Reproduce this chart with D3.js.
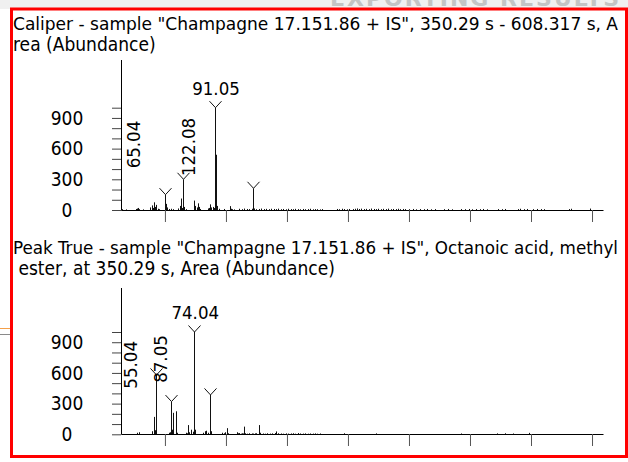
<!DOCTYPE html>
<html>
<head>
<meta charset="utf-8">
<script src="https://cdn.jsdelivr.net/npm/d3@7"></script>
<style>
  html, body { margin: 0; padding: 0; background: #ffffff; }
  svg { display: block; }
  text { font-family: "DejaVu Sans Condensed", "DejaVu Sans", sans-serif; fill: #000; }
</style>
</head>
<body>
<svg id="chart" width="628" height="462"></svg>
<script>
// ---- data ---------------------------------------------------------------
const xTicks = [50, 100, 150, 200, 250, 300, 350, 400];
const yMinorTicks = [0, 100, 200, 300, 400, 500, 600, 700, 800, 900, 1000];
const yTickLabels = [0, 300, 600, 900];

const caliperTitle = [
  "Caliper - sample \"Champagne 17.151.86 + IS\", 350.29 s - 608.317 s, A",
  "rea (Abundance)"
];
const peakTrueTitle = [
  "Peak True - sample \"Champagne 17.151.86 + IS\", Octanoic acid, methyl",
  " ester, at 350.29 s, Area (Abundance)"
];

// [m/z, abundance]
const caliperPeaks = [
  [15, 8], [18, 6], [26, 10], [27, 14], [28, 20], [29, 8], [32, 6],
  [38, 25], [39, 45], [40, 20], [41, 75], [42, 30], [43, 50], [44, 12], [45, 8],
  [50, 150], [51, 60], [52, 25], [53, 10], [55, 12], [57, 8],
  [61, 15], [62, 40], [63, 112], [64, 20], [65.04, 300], [66, 30], [67, 8],
  [74, 92], [75, 40], [76, 25], [77, 65], [78, 30], [79, 10],
  [85, 15], [86, 20], [87, 55], [88, 25], [89, 30], [90, 20],
  [91.05, 1000], [92.06, 540], [93, 40], [94, 12], [98, 10],
  [103, 38], [104, 12], [105, 8], [107, 6],
  [111, 12], [113, 8], [115, 14], [117, 10], [119, 9], [121, 12],
  [122.08, 212], [123, 15], [125, 8], [127, 10], [129, 14], [131, 9], [133, 11],
  [135, 8], [137, 12], [139, 10], [141, 9], [143, 13], [145, 8], [147, 10],
  [149, 7], [151, 12], [153, 9], [155, 8], [157, 11], [159, 9], [161, 7],
  [163, 10], [165, 8], [167, 9], [169, 12], [171, 7], [173, 9], [175, 8],
  [177, 6], [179, 9],
  [191, 10], [193, 8], [195, 12], [197, 9], [199, 7], [201, 10],
  [204, 9], [206, 12], [207, 15], [209, 10], [211, 13], [213, 9], [215, 11],
  [217, 8], [219, 14], [221, 10], [223, 9], [225, 12], [227, 8], [229, 11],
  [231, 9], [233, 13], [235, 8], [237, 10], [239, 9], [241, 12], [243, 8],
  [245, 10], [247, 9],
  [250, 8], [253, 10], [256, 7], [259, 9], [262, 8], [265, 10], [268, 7], [271, 9],
  [279, 8], [282, 10], [285, 7],
  [293, 9], [296, 8], [299, 10], [302, 7], [305, 9], [308, 8], [311, 10], [314, 7],
  [323, 9], [326, 8], [329, 10],
  [339, 9], [341, 12], [344, 8], [347, 10],
  [352, 8], [355, 10], [358, 9], [361, 8],
  [381, 9], [383, 12],
  [398, 14]
];
// peaks flagged with a marker
const caliperMarked = [50, 65.04, 91.05, 122.08];

const peakTruePeaks = [
  [27, 15], [29, 20], [39, 30], [41, 170], [42, 40], [43, 580],
  [53, 15], [54, 20], [55.04, 320], [56, 45], [57, 210], [59, 225], [60, 15],
  [67, 15], [68, 10], [69, 90], [70, 20], [71, 45], [73, 25],
  [74.04, 1000], [75, 45], [81, 15], [83, 30], [84, 35], [85, 15],
  [87.05, 385], [88, 30], [97, 15], [98, 10], [99, 20], [101, 60], [102, 10],
  [109, 20], [110, 10], [111, 12], [112, 6], [113, 10], [114, 8],
  [115, 75], [116, 10], [117, 6], [119, 10], [121, 8], [122, 7], [124, 9],
  [125, 10], [127, 90], [128, 15], [130, 8], [132, 6], [134, 10], [136, 7],
  [138, 9], [140, 12], [141, 28], [143, 10], [145, 8], [147, 6], [149, 9],
  [151, 7], [153, 8], [155, 10], [157, 6], [159, 12], [161, 8], [163, 7],
  [165, 9], [167, 6], [169, 8], [171, 7], [173, 9], [175, 6], [177, 8],
  [197, 10], [223, 9], [293, 8], [322, 9], [329, 10], [335, 8], [348, 14]
];
const peakTrueMarked = [43, 55.04, 74.04, 87.05];

// label text, m/z and abundance where the label sits, orientation
const caliperLabels = [
  { text: "91.05", mz: 91.05, rotate: false },
  { text: "65.04", mz: 29.6, at: 640, rotate: true },
  { text: "122.08", mz: 74.6, at: 616, rotate: true }
];
const peakTrueLabels = [
  { text: "74.04", mz: 74.04, rotate: false },
  { text: "55.04", mz: 27.4, at: 679, rotate: true },
  { text: "87.05", mz: 51.5, at: 736, rotate: true }
];

// ---- layout -------------------------------------------------------------
const W = 628, H = 462;
const svg = d3.select("#chart");
const titleSize = 19;
const labelSize = 18.5;

// page strip above the frame
svg.append("rect").attr("x", 0).attr("y", 0).attr("width", W).attr("height", 9)
  .attr("fill", "#f0f0f0");
svg.append("text").text("EXPORTING RESULTS")
  .attr("x", 330).attr("y", 6)
  .style("font-family", "'DejaVu Sans', sans-serif")
  .style("font-weight", "bold").style("font-size", "22px")
  .style("letter-spacing", "2px").style("fill", "#c4c4c4");

// small page rules at the left margin
svg.append("line").attr("x1", 0).attr("x2", 10).attr("y1", 328.5).attr("y2", 328.5)
  .attr("stroke", "#f5a04a").attr("stroke-width", 1);
svg.append("line").attr("x1", 0).attr("x2", 10).attr("y1", 334.5).attr("y2", 334.5)
  .attr("stroke", "#8a8a8a").attr("stroke-width", 1);

const x = d3.scaleLinear().domain([14, 409]).range([121, 603]);

const panels = [
  { title: caliperTitle, titleWidth: 605, peaks: caliperPeaks, marked: caliperMarked,
    labels: caliperLabels, base: 210, axisTop: 60, titleY: 29.5 },
  { title: peakTrueTitle, titleWidth: 605, peaks: peakTruePeaks, marked: peakTrueMarked,
    labels: peakTrueLabels, base: 434.3, axisTop: 288, titleY: 254 }
];

panels.forEach(p => {
  const g = svg.append("g");
  const y = d3.scaleLinear().domain([0, 1000]).range([p.base, p.base - 102.3]);

  // title (two lines, first line stretched to the frame width)
  p.title.forEach((line, i) => {
    const t = g.append("text").text(line)
      .attr("x", 13).attr("y", p.titleY + i * 21)
      .style("font-size", (i === 0 ? 18.4 : titleSize) + "px")
      .style("white-space", "pre");
    if (i === 0) t.attr("textLength", p.titleWidth).attr("lengthAdjust", "spacingAndGlyphs");
  });

  // x axis (unlabelled ticks)
  const xa = g.append("g")
    .attr("transform", `translate(0,${Math.round(p.base)})`)
    .call(d3.axisBottom(x).tickValues(xTicks).tickSize(12).tickSizeOuter(0).tickFormat(""));
  xa.select(".domain").attr("stroke", "#000");
  xa.selectAll(".tick line").attr("stroke", "#555");

  // y axis
  const ya = g.append("g")
    .attr("transform", "translate(121,0)")
    .call(d3.axisLeft(y).tickValues(yMinorTicks).tickSize(9).tickSizeOuter(0)
      .tickFormat(d => yTickLabels.includes(d) ? d : ""));
  ya.select(".domain").remove();
  ya.selectAll(".tick line").attr("stroke", "#444");
  ya.selectAll(".tick text")
    .attr("x", -54).attr("text-anchor", "middle")
    .style("font-size", titleSize + "px")
    .style("font-family", "'DejaVu Sans Condensed', 'DejaVu Sans', sans-serif")
    .attr("fill", "#000");
  g.append("line")
    .attr("x1", 121.5).attr("x2", 121.5)
    .attr("y1", p.axisTop).attr("y2", Math.round(p.base) + 0.5)
    .attr("stroke", "#000");

  // spectrum sticks
  g.selectAll("line.peak").data(p.peaks).join("line").attr("class", "peak")
    .attr("x1", d => Math.round(x(d[0])) + 0.5).attr("x2", d => Math.round(x(d[0])) + 0.5)
    .attr("y1", Math.round(p.base)).attr("y2", d => y(d[1]))
    .attr("stroke", "#111").attr("stroke-width", 1);

  // peak markers
  const markedPeaks = p.peaks.filter(d => p.marked.includes(d[0]));
  g.selectAll("path.marker").data(markedPeaks).join("path").attr("class", "marker")
    .attr("d", d => {
      const px = Math.round(x(d[0])) + 0.5, py = y(d[1]);
      return `M${px - 6},${py - 6.5}L${px},${py}L${px + 6},${py - 6.5}`;
    })
    .attr("fill", "none").attr("stroke", "#111").attr("stroke-width", 1);

  // peak labels
  p.labels.forEach(l => {
    if (!l.rotate) {
      const pk = p.peaks.find(d => d[0] === l.mz);
      g.append("text").text(l.text)
        .attr("x", x(l.mz) + 1).attr("y", y(pk[1]) - 13)
        .attr("text-anchor", "middle")
        .style("font-size", labelSize + "px");
    } else {
      g.append("text").text(l.text)
        .attr("transform", `translate(${x(l.mz)},${y(l.at)}) rotate(-90)`)
        .attr("text-anchor", "middle")
        .style("font-size", labelSize + "px");
    }
  });
});

// red frame
svg.append("rect")
  .attr("x", 11.5).attr("y", 9).attr("width", 615).attr("height", 447.5)
  .attr("fill", "none").attr("stroke", "#ff0000").attr("stroke-width", 3);
</script>
</body>
</html>
